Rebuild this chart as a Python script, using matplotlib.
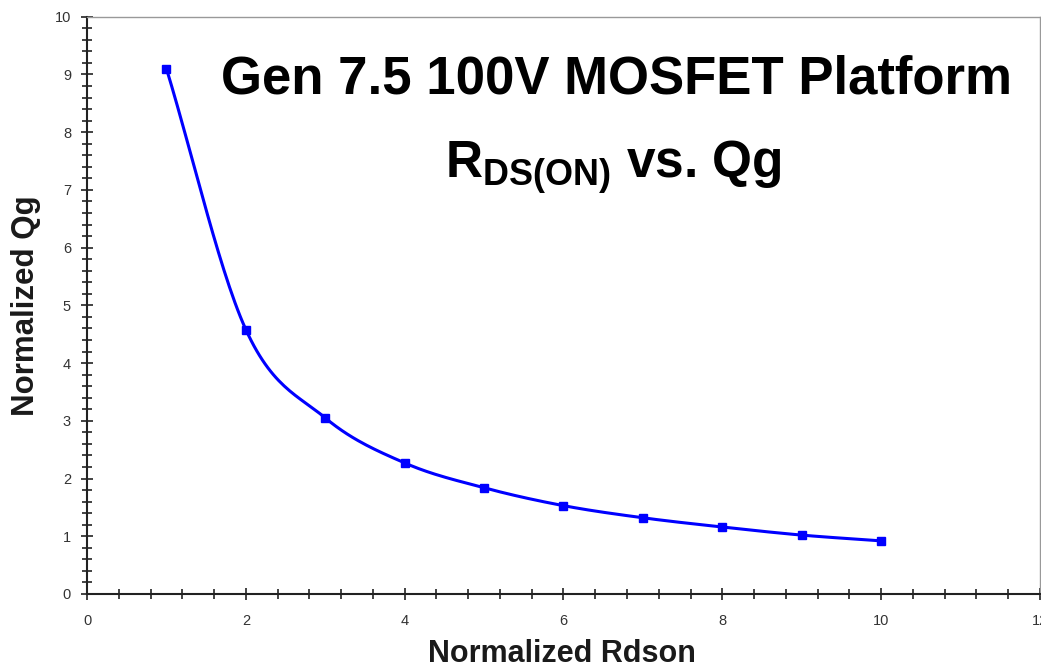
import numpy as np
import matplotlib.pyplot as plt
from matplotlib.ticker import MultipleLocator

plt.rcParams['font.family'] = ['Liberation Sans', 'DejaVu Sans']
plt.rcParams['mathtext.fontset'] = 'custom'
plt.rcParams['mathtext.rm'] = 'Liberation Sans'
plt.rcParams['mathtext.bf'] = 'Liberation Sans:bold'

rdson = [1, 2, 3, 4, 5, 6, 7, 8, 9, 10]
qg = [9.10, 4.58, 3.05, 2.27, 1.84, 1.53, 1.32, 1.16, 1.02, 0.92]
x_ticks = [0, 2, 4, 6, 8, 10, 12]
y_ticks = [0, 1, 2, 3, 4, 5, 6, 7, 8, 9, 10]


def smooth(xs, ys, n=30):
    # catmull-rom, like the excel "smoothed line"
    xs = np.asarray(xs, float)
    ys = np.asarray(ys, float)
    px = np.concatenate([[2 * xs[0] - xs[1]], xs, [2 * xs[-1] - xs[-2]]])
    py = np.concatenate([[2 * ys[0] - ys[1]], ys, [2 * ys[-1] - ys[-2]]])
    ox, oy = [], []
    t = np.linspace(0, 1, n)
    for i in range(1, len(px) - 2):
        for p, o in ((px, ox), (py, oy)):
            p0, p1, p2, p3 = p[i - 1], p[i], p[i + 1], p[i + 2]
            o.extend(0.5 * (2 * p1 + (-p0 + p2) * t
                            + (2 * p0 - 5 * p1 + 4 * p2 - p3) * t ** 2
                            + (-p0 + 3 * p1 - 3 * p2 + p3) * t ** 3))
    return ox, oy


fig = plt.figure(figsize=(10.41, 6.65), dpi=100)
ax = fig.add_axes([0.0836, 0.1068, 0.9154, 0.8681])

sx, sy = smooth(rdson, qg)
ax.plot(sx, sy, color='#0000ff', lw=2.2, solid_capstyle='butt')
ax.plot(rdson, qg, 's', color='#0000ff', ms=5.5)

ax.set_xlim(0, 12)
ax.set_ylim(0, 10)
ax.set_xticks(x_ticks)
ax.set_yticks(y_ticks)
ax.xaxis.set_minor_locator(MultipleLocator(0.4))
ax.yaxis.set_minor_locator(MultipleLocator(0.2))
ax.tick_params(which='major', direction='inout', length=9, width=1.2, color='#222222',
               labelsize=10.5, labelcolor='#333333')
ax.tick_params(which='minor', direction='inout', length=7, width=1.2, color='#222222')
ax.tick_params(axis='x', which='major', pad=10)
ax.tick_params(axis='y', which='major', pad=7)
ax.tick_params(top=False, right=False)
for s in ['left', 'bottom']:
    ax.spines[s].set_color('#222222')
    ax.spines[s].set_linewidth(1.5)
for s in ['top', 'right']:
    ax.spines[s].set_color('#999999')
    ax.spines[s].set_linewidth(1)

fig.text(0.54, 1 - 662 / 665, 'Normalized Rdson', fontsize=22, fontweight='bold',
         color='#1a1a1a', ha='center', va='baseline')
ax.set_ylabel('Normalized Qg', fontsize=22.5, fontweight='bold', color='#1a1a1a', labelpad=10)

fig.text(0.592, 0.88, 'Gen 7.5 100V MOSFET Platform', fontsize=38, fontweight='bold',
         ha='center', va='center')
fig.text(0.589, 0.748, r'$\mathbf{R_{DS(ON)}}$ vs. Qg', fontsize=37, fontweight='bold',
         ha='center', va='center')

fig.savefig('out.png', dpi=100)
